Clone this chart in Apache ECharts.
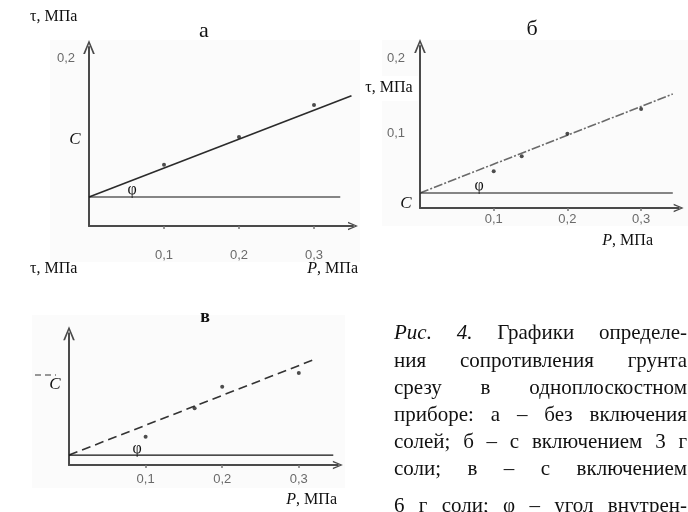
<!DOCTYPE html>
<html><head><meta charset="utf-8">
<script src="https://cdn.jsdelivr.net/npm/echarts@6/dist/echarts.min.js"></script>
<style>html,body{margin:0;padding:0;background:#fff}#c{width:688px;height:512px}</style>
</head><body><div id="c"></div>
<script>
// ---------- data ----------
const xTicks = [0.1, 0.2, 0.3];
const aYTicks = [0.2];
const bYTicks = [0.1, 0.2];
const vYTicks = [];

// panel а (без включения солей)
const aPointP = [0.1, 0.2, 0.3];
const aPointT = [0.073, 0.106, 0.144];
const aFitP = [0, 0.35];
const aFitT = [0.0345, 0.155];
const aBaseP = [0, 0.335];
const aBaseT = [0.0345, 0.0345];

// panel б (3 г соли)
const bPointP = [0.1, 0.138, 0.2, 0.3];
const bPointT = [0.049, 0.069, 0.099, 0.132];
const bFitP = [0, 0.343];
const bFitT = [0.02, 0.152];
const bBaseP = [0, 0.343];
const bBaseT = [0.02, 0.02];

// panel в (6 г соли)
const vPointP = [0.1, 0.164, 0.2, 0.3];
const vPointT = [0.037, 0.074, 0.102, 0.120];
const vFitP = [0, 0.3185];
const vFitT = [0.013, 0.137];
const vBaseP = [0, 0.345];
const vBaseT = [0.013, 0.013];

const captionLines = [
  [["Рис.", true], ["4.", true], ["Графики", false], ["определе-", false]],
  [["ния"], ["сопротивления"], ["грунта"]],
  [["срезу"], ["в"], ["одноплоскостном"]],
  [["приборе:"], ["а"], ["–"], ["без"], ["включения"]],
  [["солей;"], ["б"], ["–"], ["с"], ["включением"], ["3"], ["г"]],
  [["соли;"], ["в"], ["–"], ["с"], ["включением"]],
  [["6"], ["г"], ["соли;"], ["φ"], ["–"], ["угол"], ["внутрен-"]]
];

// ---------- layout ----------
const L = {
  a: {left: 89, base: 226, sx: 750, sy: 840, xmax: 0.352, ymax: 0.213, xm: 23, ym: 14},
  b: {left: 420, base: 208, sx: 737, sy: 750, xmax: 0.351, ymax: 0.216, xm: 5, ym: 15},
  v: {left: 69, base: 465, sx: 766, sy: 766, xmax: 0.351, ymax: 0.172, xm: 8, ym: 14}
};
const keys = ['a', 'b', 'v'];
const yTickSets = {a: aYTicks, b: bYTicks, v: vYTicks};
const chevron = 'path://M0,12 L5,0 L10,12 L8.4,12 L5,3.4 L1.6,12 Z';
const fmt = v => v.toFixed(1).replace('.', ',');
const zip = (p, t) => p.map((x, i) => [x, t[i]]);

const grids = [], xAxes = [], yAxes = [];
keys.forEach((k, i) => {
  const g = L[k];
  grids.push({left: g.left, top: g.base - g.ymax * g.sy, width: g.xmax * g.sx, height: g.ymax * g.sy, containLabel: false});
  xAxes.push({
    type: 'value', gridIndex: i, min: 0, max: g.xmax,
    axisLine: {onZero: false, lineStyle: {color: '#4a4a4a', width: 2}, symbol: ['none', chevron], symbolSize: [9, 10]},
    axisTick: {show: true, customValues: xTicks, length: 3, lineStyle: {color: '#777', width: 1.5}},
    axisLabel: {customValues: xTicks, formatter: fmt, color: '#6a6a6a', fontSize: 13, fontFamily: 'Liberation Sans', margin: g.xm},
    splitLine: {show: false}
  });
  yAxes.push({
    type: 'value', gridIndex: i, min: 0, max: g.ymax,
    axisLine: {show: true, onZero: false, lineStyle: {color: '#4a4a4a', width: 2}, symbol: ['none', chevron], symbolSize: [12, 14]},
    axisTick: {show: false},
    axisLabel: {show: yTickSets[k].length > 0, customValues: yTickSets[k].length ? yTickSets[k] : [0], formatter: fmt, color: '#6a6a6a', fontSize: 13, fontFamily: 'Liberation Sans', margin: g.ym},
    splitLine: {show: false}
  });
});

function lineSeries(i, p, t, style) {
  return {type: 'line', xAxisIndex: i, yAxisIndex: i, data: zip(p, t), symbol: 'none', clip: false, lineStyle: style, silent: true, z: 3};
}
function pointSeries(i, p, t) {
  return {type: 'scatter', xAxisIndex: i, yAxisIndex: i, data: zip(p, t), symbolSize: 4, itemStyle: {color: '#222'}, clip: false, silent: true, z: 4};
}
const series = [
  lineSeries(0, aFitP, aFitT, {color: '#2b2b2b', width: 1.6}),
  lineSeries(0, aBaseP, aBaseT, {color: '#111', width: 1.2}),
  pointSeries(0, aPointP, aPointT),
  lineSeries(1, bFitP, bFitT, {color: '#6a6a6a', width: 1.6, type: [9, 2, 2, 2]}),
  lineSeries(1, bBaseP, bBaseT, {color: '#111', width: 1.2}),
  pointSeries(1, bPointP, bPointT),
  lineSeries(2, vFitP, vFitT, {color: '#333', width: 1.6, type: [9, 5]}),
  lineSeries(2, vBaseP, vBaseT, {color: '#111', width: 1.2}),
  pointSeries(2, vPointP, vPointT)
];

// ---------- text ----------
const SERIF = '"Liberation Serif", "Times New Roman", serif';
function txt(text, x, y, size, opts) {
  opts = opts || {};
  return {type: 'text', x: x, y: y, z: 10, silent: true, style: {
    text: text, fill: opts.fill || '#111', align: opts.align || 'left', verticalAlign: 'middle',
    font: (opts.italic ? 'italic ' : '') + (opts.bold ? 'bold ' : '') + size + 'px ' + SERIF
  }};
}
const richP = {i: {fontStyle: 'italic', fontFamily: SERIF, fontSize: 16, fill: '#111'}, n: {fontFamily: SERIF, fontSize: 16, fill: '#111'}};
const graphics = [
  {type: 'rect', shape: {x: 50, y: 40, width: 310, height: 222}, style: {fill: '#fbfbfb'}, z: -10, silent: true},
  {type: 'rect', shape: {x: 382, y: 40, width: 306, height: 186}, style: {fill: '#fbfbfb'}, z: -10, silent: true},
  {type: 'rect', shape: {x: 360, y: 76, width: 58, height: 25}, style: {fill: '#fff'}, z: -9, silent: true},
  {type: 'rect', shape: {x: 32, y: 315, width: 313, height: 173}, style: {fill: '#fbfbfb'}, z: -10, silent: true},
  txt('τ, МПа', 30, 17, 16),
  txt('а', 204, 31, 22, {align: 'center'}),
  txt('C', 75, 140, 17, {italic: true, align: 'center'}),
  txt('φ', 132, 190, 16, {align: 'center'}),
  txt('τ, МПа', 30, 269, 16),
  {type: 'text', x: 358, y: 269, z: 10, silent: true, style: {text: '{i|P}{n|, МПа}', align: 'right', verticalAlign: 'middle', rich: richP}},
  txt('б', 532, 29, 22, {align: 'center'}),
  txt('τ, МПа', 389, 88, 16, {align: 'center'}),
  txt('C', 406, 204, 17, {italic: true, align: 'center'}),
  txt('φ', 479, 186, 16, {align: 'center'}),
  {type: 'text', x: 653, y: 241, z: 10, silent: true, style: {text: '{i|P}{n|, МПа}', align: 'right', verticalAlign: 'middle', rich: richP}},
  txt('в', 205, 317, 18, {align: 'center', bold: true}),
  txt('C', 55, 385, 17, {italic: true, align: 'center'}),
  {type: 'line', shape: {x1: 35, y1: 375, x2: 56, y2: 375}, style: {stroke: '#777', lineWidth: 1.5, lineDash: [6, 4]}, z: 5, silent: true},
  txt('φ', 137, 449, 16, {align: 'center'}),
  {type: 'text', x: 337, y: 500, z: 10, silent: true, style: {text: '{i|P}{n|, МПа}', align: 'right', verticalAlign: 'middle', rich: richP}}
];

// justified caption
const capSize = 21, capLeft = 394, capRight = 687;
const capY = [333, 361, 388, 415, 442, 469, 506];
const cv = document.createElement('canvas').getContext('2d');
captionLines.forEach((words, li) => {
  const fonts = words.map(w => (w[1] ? 'italic ' : '') + capSize + 'px ' + SERIF);
  const widths = words.map((w, i) => { cv.font = fonts[i]; return cv.measureText(w[0]).width; });
  const total = widths.reduce((s, v) => s + v, 0);
  const gap = words.length > 1 ? (capRight - capLeft - total) / (words.length - 1) : 0;
  let x = capLeft;
  words.forEach((w, i) => {
    graphics.push({type: 'text', x: x, y: capY[li], z: 10, silent: true,
      style: {text: w[0], font: fonts[i], fill: '#111', align: 'left', verticalAlign: 'middle'}});
    x += widths[i] + gap;
  });
});

const chart = echarts.init(document.getElementById('c'), null, {renderer: 'canvas'});
chart.setOption({
  animation: false,
  backgroundColor: '#fff',
  grid: grids, xAxis: xAxes, yAxis: yAxes, series: series, graphic: graphics
});
</script>
</body></html>
